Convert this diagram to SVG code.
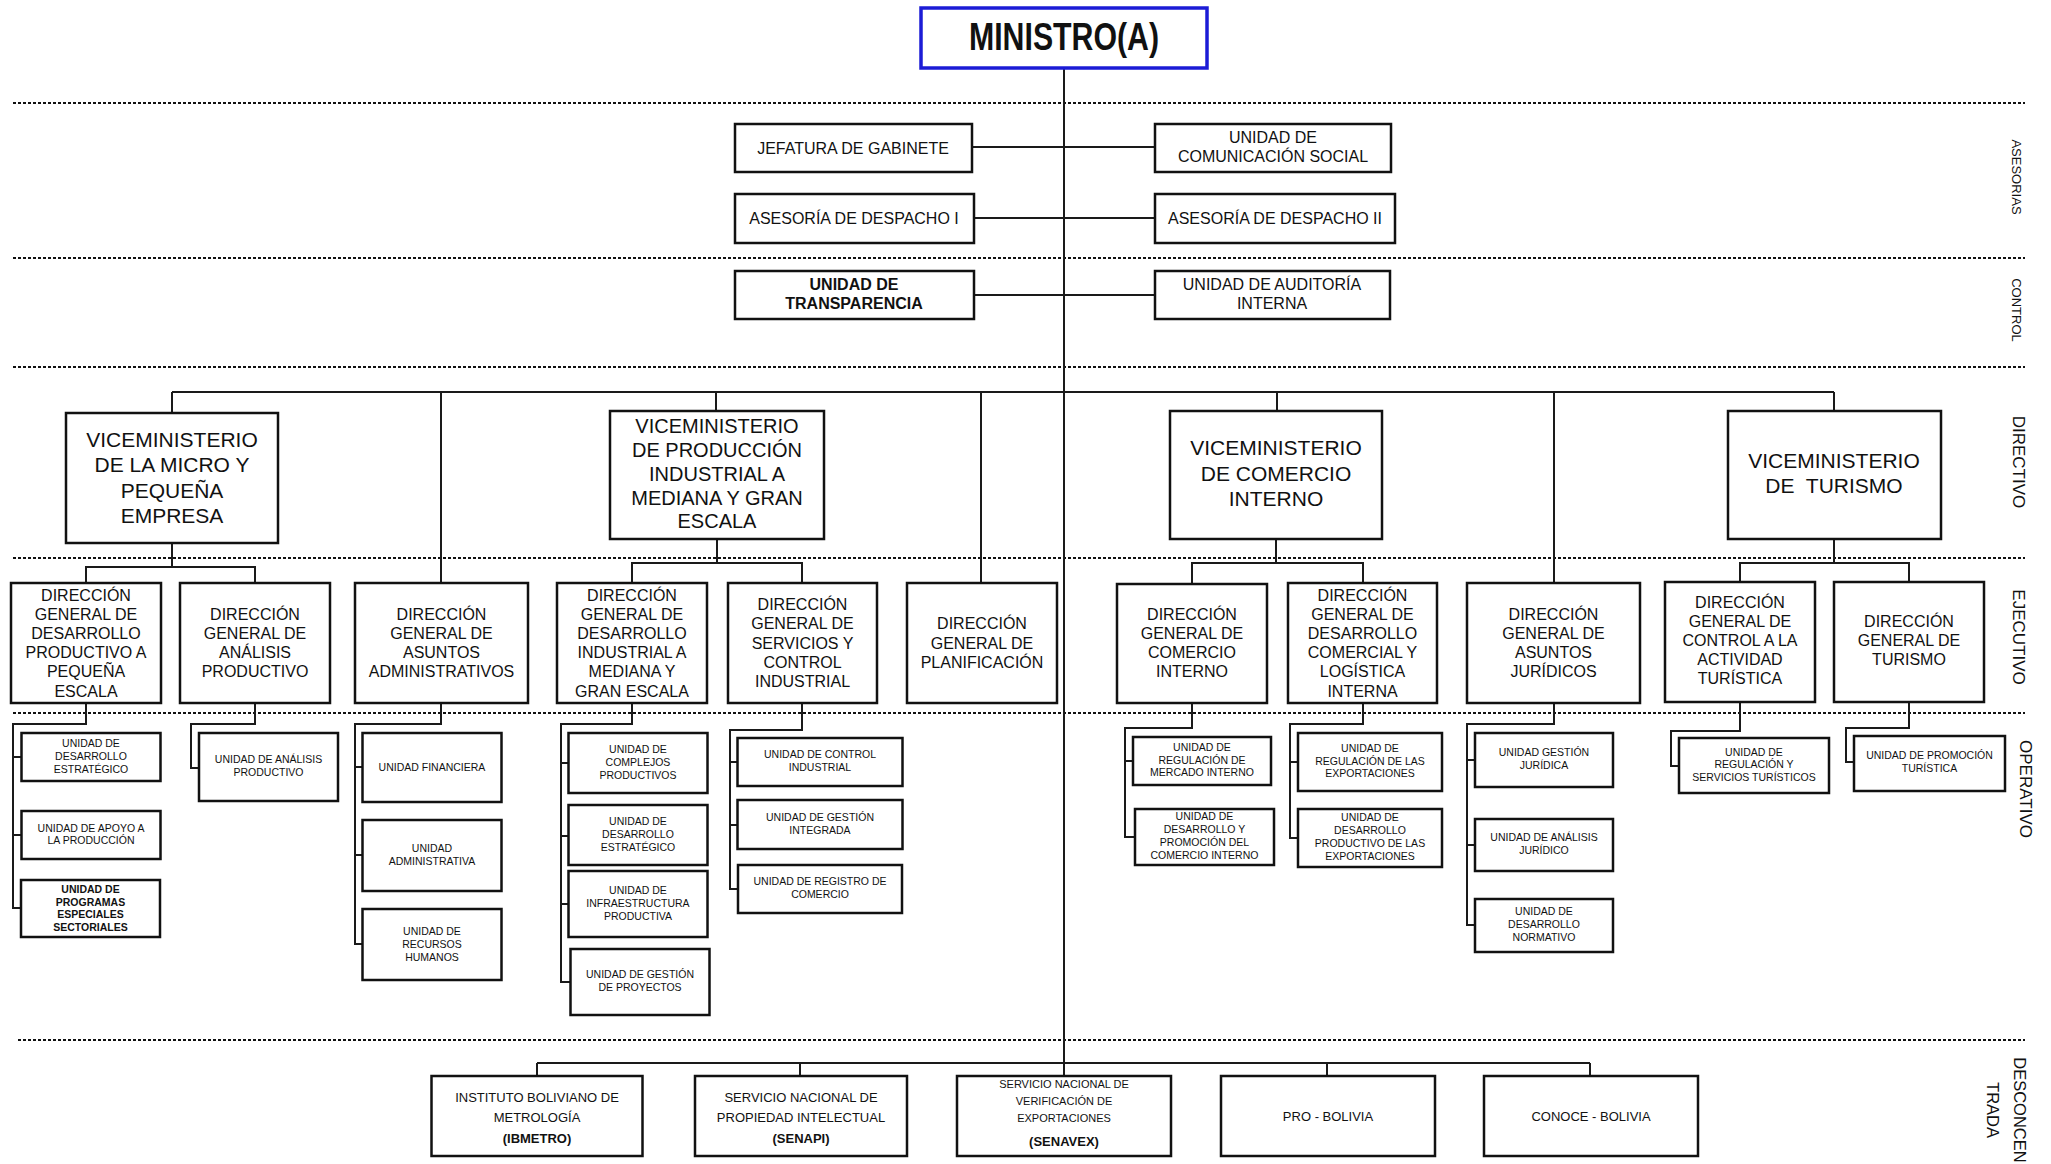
<svg xmlns="http://www.w3.org/2000/svg" width="2051" height="1164" viewBox="0 0 2051 1164">
<style>
.bg{fill:#fff}
.box{fill:#fff;stroke:#111;stroke-width:2.5}
.mbox{fill:#fff;stroke:#1c1cd6;stroke-width:3.5}
.t{font-family:"Liberation Sans",Arial,sans-serif;text-anchor:middle;fill:#111}
.f16{font-size:16px}
.f21{font-size:21px}
.f20{font-size:20px}
.f11{font-size:10.5px}
.f13{font-size:13px}
.b{font-weight:bold}
.dot{stroke:#111;stroke-width:2;stroke-dasharray:3 2;fill:none}
.c{stroke:#1a1a1a;stroke-width:2;fill:none}
.lab{font-family:"Liberation Sans",Arial,sans-serif;text-anchor:middle;fill:#111}
</style>
<rect class="bg" x="0" y="0" width="2051" height="1164"/>

<g id="levels">
<line class="dot" x1="13" y1="103" x2="2025" y2="103"/>
<line class="dot" x1="13" y1="258" x2="2025" y2="258"/>
<line class="dot" x1="13" y1="367" x2="2025" y2="367"/>
<line class="dot" x1="13" y1="558" x2="2025" y2="558"/>
<line class="dot" x1="13" y1="713" x2="2025" y2="713"/>
<line class="dot" x1="18" y1="1040" x2="2025" y2="1040"/>
<text class="lab" font-size="13" transform="translate(2012,177) rotate(90)">ASESORIAS</text>
<text class="lab" font-size="13" transform="translate(2012,310) rotate(90)">CONTROL</text>
<text class="lab" font-size="17" transform="translate(2013,462) rotate(90)">DIRECTIVO</text>
<text class="lab" font-size="17" transform="translate(2013,637) rotate(90)">EJECUTIVO</text>
<text class="lab" font-size="17" transform="translate(2020,789) rotate(90)">OPERATIVO</text>
<text class="lab" font-size="16.5" transform="translate(2014,1110) rotate(90)">DESCONCEN</text>
<text class="lab" font-size="16.5" transform="translate(1987,1110) rotate(90)">TRADA</text>
</g>

<g id="connectors">
<path class="c" d="M1064 68 V1076"/>
<path class="c" d="M972 147 H1155 M974 218 H1155 M974 295 H1155"/>
<path class="c" stroke-width="2.5" d="M172 392 H1834"/>
<path class="c" d="M172 392 V413 M441 392 V583 M716 392 V411 M981 392 V583 M1277 392 V411 M1554 392 V583 M1834 392 V411"/>
<path class="c" d="M172 543 V567 M86 583 V567 H255 V583"/>
<path class="c" d="M717 539 V563 M632 583 V563 H802 V583"/>
<path class="c" d="M1276 539 V563 M1192 584 V563 H1363 V583"/>
<path class="c" d="M1834 539 V563 M1740 582 V563 H1909 V582"/>
<path class="c" d="M86 703 V724 H13 V908 H21 M13 757 H22 M13 835 H22"/>
<path class="c" d="M255 703 V724 H191 V768 H199"/>
<path class="c" d="M441 703 V724 H355 V944 H363 M355 767 H363 M355 855 H363"/>
<path class="c" d="M632 703 V724 H561 V982 H571 M561 763 H569 M561 836 H569 M561 904 H569"/>
<path class="c" d="M802 703 V730 H730 V889 H738 M730 762 H737 M730 825 H737"/>
<path class="c" d="M1192 703 V728 H1125 V837 H1135 M1125 761 H1133"/>
<path class="c" d="M1363 703 V724 H1290 V838 H1298 M1290 762 H1298"/>
<path class="c" d="M1554 703 V724 H1467 V925 H1475 M1467 760 H1475 M1467 845 H1475"/>
<path class="c" d="M1740 702 V731 H1671 V766 H1679"/>
<path class="c" d="M1909 702 V728 H1846 V762 H1854"/>
<path class="c" stroke-width="2.5" d="M537 1063 H1590"/>
<path class="c" d="M537 1063 V1076 M800 1063 V1076 M1327 1063 V1076 M1590 1063 V1076"/>
</g>

<g id="ministro">
<rect class="mbox" x="921" y="8" width="286" height="60"/>
<text class="t b" font-size="38" x="1064" y="50" textLength="190" lengthAdjust="spacingAndGlyphs">MINISTRO(A)</text>
</g>

<g id="jefatura-gabinete"><rect class="box" x="735" y="124" width="237" height="48"/><text class="t f16" x="853" y="154">JEFATURA DE GABINETE</text></g>
<g id="comunicacion-social"><rect class="box" x="1155" y="124" width="236" height="48"/><text class="t f16"><tspan x="1273" y="143">UNIDAD DE</tspan><tspan x="1273" y="162">COMUNICACIÓN SOCIAL</tspan></text></g>
<g id="asesoria-1"><rect class="box" x="735" y="194" width="239" height="49"/><text class="t f16" x="854" y="224">ASESORÍA DE DESPACHO I</text></g>
<g id="asesoria-2"><rect class="box" x="1155" y="194" width="240" height="49"/><text class="t f16" x="1275" y="224">ASESORÍA DE DESPACHO II</text></g>
<g id="transparencia"><rect class="box" x="735" y="271" width="239" height="48"/><text class="t f16 b"><tspan x="854" y="290">UNIDAD DE</tspan><tspan x="854" y="309">TRANSPARENCIA</tspan></text></g>
<g id="auditoria"><rect class="box" x="1155" y="271" width="235" height="48"/><text class="t f16"><tspan x="1272" y="290">UNIDAD DE AUDITORÍA</tspan><tspan x="1272" y="309">INTERNA</tspan></text></g>

<g id="vm-micro"><rect class="box" x="66" y="413" width="212" height="130"/><text class="t f21"><tspan x="172" y="447">VICEMINISTERIO</tspan><tspan x="172" y="472">DE LA MICRO Y</tspan><tspan x="172" y="498">PEQUEÑA</tspan><tspan x="172" y="523">EMPRESA</tspan></text></g>
<g id="vm-produccion"><rect class="box" x="610" y="411" width="214" height="128"/><text class="t f20"><tspan x="717" y="433">VICEMINISTERIO</tspan><tspan x="717" y="457">DE PRODUCCIÓN</tspan><tspan x="717" y="481">INDUSTRIAL A</tspan><tspan x="717" y="505">MEDIANA Y GRAN</tspan><tspan x="717" y="528">ESCALA</tspan></text></g>
<g id="vm-comercio"><rect class="box" x="1170" y="411" width="212" height="128"/><text class="t f21"><tspan x="1276" y="455">VICEMINISTERIO</tspan><tspan x="1276" y="481">DE COMERCIO</tspan><tspan x="1276" y="506">INTERNO</tspan></text></g>
<g id="vm-turismo"><rect class="box" x="1728" y="411" width="213" height="128"/><text class="t f21" style="white-space:pre"><tspan x="1834" y="468">VICEMINISTERIO</tspan><tspan x="1834" y="493">DE  TURISMO</tspan></text></g>

<g id="dg-desarrollo-productivo"><rect class="box" x="11" y="583" width="150" height="120"/><text class="t f16"><tspan x="86" y="601">DIRECCIÓN</tspan><tspan x="86" y="620">GENERAL DE</tspan><tspan x="86" y="639">DESARROLLO</tspan><tspan x="86" y="658">PRODUCTIVO A</tspan><tspan x="86" y="677">PEQUEÑA</tspan><tspan x="86" y="697">ESCALA</tspan></text></g>
<g id="dg-analisis-productivo"><rect class="box" x="180" y="583" width="150" height="120"/><text class="t f16"><tspan x="255" y="620">DIRECCIÓN</tspan><tspan x="255" y="639">GENERAL DE</tspan><tspan x="255" y="658">ANÁLISIS</tspan><tspan x="255" y="677">PRODUCTIVO</tspan></text></g>
<g id="dg-asuntos-administrativos"><rect class="box" x="355" y="583" width="173" height="120"/><text class="t f16"><tspan x="441.5" y="620">DIRECCIÓN</tspan><tspan x="441.5" y="639">GENERAL DE</tspan><tspan x="441.5" y="658">ASUNTOS</tspan><tspan x="441.5" y="677">ADMINISTRATIVOS</tspan></text></g>
<g id="dg-desarrollo-industrial"><rect class="box" x="557" y="583" width="150" height="120"/><text class="t f16"><tspan x="632" y="601">DIRECCIÓN</tspan><tspan x="632" y="620">GENERAL DE</tspan><tspan x="632" y="639">DESARROLLO</tspan><tspan x="632" y="658">INDUSTRIAL A</tspan><tspan x="632" y="677">MEDIANA Y</tspan><tspan x="632" y="697">GRAN ESCALA</tspan></text></g>
<g id="dg-servicios-control"><rect class="box" x="728" y="583" width="149" height="120"/><text class="t f16"><tspan x="802.5" y="610">DIRECCIÓN</tspan><tspan x="802.5" y="629">GENERAL DE</tspan><tspan x="802.5" y="649">SERVICIOS Y</tspan><tspan x="802.5" y="668">CONTROL</tspan><tspan x="802.5" y="687">INDUSTRIAL</tspan></text></g>
<g id="dg-planificacion"><rect class="box" x="907" y="583" width="150" height="120"/><text class="t f16"><tspan x="982" y="629">DIRECCIÓN</tspan><tspan x="982" y="649">GENERAL DE</tspan><tspan x="982" y="668">PLANIFICACIÓN</tspan></text></g>
<g id="dg-comercio-interno"><rect class="box" x="1117" y="584" width="150" height="119"/><text class="t f16"><tspan x="1192" y="620">DIRECCIÓN</tspan><tspan x="1192" y="639">GENERAL DE</tspan><tspan x="1192" y="658">COMERCIO</tspan><tspan x="1192" y="677">INTERNO</tspan></text></g>
<g id="dg-desarrollo-comercial"><rect class="box" x="1288" y="583" width="149" height="120"/><text class="t f16"><tspan x="1362.5" y="601">DIRECCIÓN</tspan><tspan x="1362.5" y="620">GENERAL DE</tspan><tspan x="1362.5" y="639">DESARROLLO</tspan><tspan x="1362.5" y="658">COMERCIAL Y</tspan><tspan x="1362.5" y="677">LOGÍSTICA</tspan><tspan x="1362.5" y="697">INTERNA</tspan></text></g>
<g id="dg-asuntos-juridicos"><rect class="box" x="1467" y="583" width="173" height="120"/><text class="t f16"><tspan x="1553.5" y="620">DIRECCIÓN</tspan><tspan x="1553.5" y="639">GENERAL DE</tspan><tspan x="1553.5" y="658">ASUNTOS</tspan><tspan x="1553.5" y="677">JURÍDICOS</tspan></text></g>
<g id="dg-control-turistica"><rect class="box" x="1665" y="582" width="150" height="120"/><text class="t f16"><tspan x="1740" y="608">DIRECCIÓN</tspan><tspan x="1740" y="627">GENERAL DE</tspan><tspan x="1740" y="646">CONTROL A LA</tspan><tspan x="1740" y="665">ACTIVIDAD</tspan><tspan x="1740" y="684">TURÍSTICA</tspan></text></g>
<g id="dg-turismo"><rect class="box" x="1834" y="582" width="150" height="120"/><text class="t f16"><tspan x="1909" y="627">DIRECCIÓN</tspan><tspan x="1909" y="646">GENERAL DE</tspan><tspan x="1909" y="665">TURISMO</tspan></text></g>

<g id="u-desarrollo-estrategico-1"><rect class="box" x="21.5" y="733" width="139" height="48"/><text class="t f11"><tspan x="91" y="747">UNIDAD DE</tspan><tspan x="91" y="760">DESARROLLO</tspan><tspan x="91" y="773">ESTRATÉGICO</tspan></text></g>
<g id="u-apoyo-produccion"><rect class="box" x="21.5" y="811" width="139" height="48"/><text class="t f11"><tspan x="91" y="832">UNIDAD DE APOYO A</tspan><tspan x="91" y="844">LA PRODUCCIÓN</tspan></text></g>
<g id="u-programas-especiales"><rect class="box" x="21" y="880" width="139" height="57"/><text class="t f11 b"><tspan x="90.5" y="893">UNIDAD DE</tspan><tspan x="90.5" y="906">PROGRAMAS</tspan><tspan x="90.5" y="918">ESPECIALES</tspan><tspan x="90.5" y="931">SECTORIALES</tspan></text></g>
<g id="u-analisis-productivo"><rect class="box" x="199" y="733" width="139" height="68"/><text class="t f11"><tspan x="268.5" y="763">UNIDAD DE ANÁLISIS</tspan><tspan x="268.5" y="776">PRODUCTIVO</tspan></text></g>
<g id="u-financiera"><rect class="box" x="362.5" y="733" width="139" height="69"/><text class="t f11" x="432" y="771">UNIDAD FINANCIERA</text></g>
<g id="u-administrativa"><rect class="box" x="362.5" y="820" width="139" height="71"/><text class="t f11"><tspan x="432" y="852">UNIDAD</tspan><tspan x="432" y="865">ADMINISTRATIVA</tspan></text></g>
<g id="u-recursos-humanos"><rect class="box" x="362.5" y="909" width="139" height="71"/><text class="t f11"><tspan x="432" y="935">UNIDAD DE</tspan><tspan x="432" y="948">RECURSOS</tspan><tspan x="432" y="961">HUMANOS</tspan></text></g>
<g id="u-complejos-productivos"><rect class="box" x="568.5" y="733" width="139" height="60"/><text class="t f11"><tspan x="638" y="753">UNIDAD DE</tspan><tspan x="638" y="766">COMPLEJOS</tspan><tspan x="638" y="779">PRODUCTIVOS</tspan></text></g>
<g id="u-desarrollo-estrategico-2"><rect class="box" x="568.5" y="805" width="139" height="60"/><text class="t f11"><tspan x="638" y="825">UNIDAD DE</tspan><tspan x="638" y="838">DESARROLLO</tspan><tspan x="638" y="851">ESTRATÉGICO</tspan></text></g>
<g id="u-infraestructura"><rect class="box" x="568.5" y="871" width="139" height="66"/><text class="t f11"><tspan x="638" y="894">UNIDAD DE</tspan><tspan x="638" y="907">INFRAESTRUCTURA</tspan><tspan x="638" y="920">PRODUCTIVA</tspan></text></g>
<g id="u-gestion-proyectos"><rect class="box" x="570.5" y="949" width="139" height="66"/><text class="t f11"><tspan x="640" y="978">UNIDAD DE GESTIÓN</tspan><tspan x="640" y="991">DE PROYECTOS</tspan></text></g>
<g id="u-control-industrial"><rect class="box" x="737.5" y="738" width="165" height="48"/><text class="t f11"><tspan x="820" y="758">UNIDAD DE CONTROL</tspan><tspan x="820" y="771">INDUSTRIAL</tspan></text></g>
<g id="u-gestion-integrada"><rect class="box" x="737.5" y="800" width="165" height="49"/><text class="t f11"><tspan x="820" y="821">UNIDAD DE GESTIÓN</tspan><tspan x="820" y="834">INTEGRADA</tspan></text></g>
<g id="u-registro-comercio"><rect class="box" x="738" y="865" width="164" height="48"/><text class="t f11"><tspan x="820" y="885">UNIDAD DE REGISTRO DE</tspan><tspan x="820" y="898">COMERCIO</tspan></text></g>
<g id="u-regulacion-mercado"><rect class="box" x="1133" y="737" width="138" height="48"/><text class="t f11"><tspan x="1202" y="751">UNIDAD DE</tspan><tspan x="1202" y="764">REGULACIÓN DE</tspan><tspan x="1202" y="776">MERCADO INTERNO</tspan></text></g>
<g id="u-promocion-comercio"><rect class="box" x="1135" y="809" width="139" height="56"/><text class="t f11"><tspan x="1204.5" y="820">UNIDAD DE</tspan><tspan x="1204.5" y="833">DESARROLLO Y</tspan><tspan x="1204.5" y="846">PROMOCIÓN DEL</tspan><tspan x="1204.5" y="859">COMERCIO INTERNO</tspan></text></g>
<g id="u-regulacion-exportaciones"><rect class="box" x="1298" y="733" width="144" height="58"/><text class="t f11"><tspan x="1370" y="752">UNIDAD DE</tspan><tspan x="1370" y="765">REGULACIÓN DE LAS</tspan><tspan x="1370" y="777">EXPORTACIONES</tspan></text></g>
<g id="u-desarrollo-exportaciones"><rect class="box" x="1298" y="809" width="144" height="58"/><text class="t f11"><tspan x="1370" y="821">UNIDAD DE</tspan><tspan x="1370" y="834">DESARROLLO</tspan><tspan x="1370" y="847">PRODUCTIVO DE LAS</tspan><tspan x="1370" y="860">EXPORTACIONES</tspan></text></g>
<g id="u-gestion-juridica"><rect class="box" x="1475" y="733" width="138" height="54"/><text class="t f11"><tspan x="1544" y="756">UNIDAD GESTIÓN</tspan><tspan x="1544" y="769">JURÍDICA</tspan></text></g>
<g id="u-analisis-juridico"><rect class="box" x="1475" y="819" width="138" height="52"/><text class="t f11"><tspan x="1544" y="841">UNIDAD DE ANÁLISIS</tspan><tspan x="1544" y="854">JURÍDICO</tspan></text></g>
<g id="u-desarrollo-normativo"><rect class="box" x="1475" y="899" width="138" height="53"/><text class="t f11"><tspan x="1544" y="915">UNIDAD DE</tspan><tspan x="1544" y="928">DESARROLLO</tspan><tspan x="1544" y="941">NORMATIVO</tspan></text></g>
<g id="u-servicios-turisticos"><rect class="box" x="1679" y="738" width="150" height="55"/><text class="t f11"><tspan x="1754" y="756">UNIDAD DE</tspan><tspan x="1754" y="768">REGULACIÓN Y</tspan><tspan x="1754" y="781">SERVICIOS TURÍSTICOS</tspan></text></g>
<g id="u-promocion-turistica"><rect class="box" x="1854" y="736" width="151" height="55"/><text class="t f11"><tspan x="1929.5" y="759">UNIDAD DE PROMOCIÓN</tspan><tspan x="1929.5" y="772">TURÍSTICA</tspan></text></g>

<g id="ibmetro"><rect class="box" x="431.5" y="1076" width="211" height="80"/><text class="t f13"><tspan x="537" y="1102">INSTITUTO BOLIVIANO DE</tspan><tspan x="537" y="1122">METROLOGÍA</tspan><tspan x="537" y="1143" font-weight="bold">(IBMETRO)</tspan></text></g>
<g id="senapi"><rect class="box" x="695" y="1076" width="212" height="80"/><text class="t f13"><tspan x="801" y="1102">SERVICIO NACIONAL DE</tspan><tspan x="801" y="1122">PROPIEDAD INTELECTUAL</tspan><tspan x="801" y="1143" font-weight="bold">(SENAPI)</tspan></text></g>
<g id="senavex"><rect class="box" x="957" y="1076" width="214" height="80"/><text class="t" font-size="11"><tspan x="1064" y="1088">SERVICIO NACIONAL DE</tspan><tspan x="1064" y="1105">VERIFICACIÓN DE</tspan><tspan x="1064" y="1122">EXPORTACIONES</tspan><tspan x="1064" y="1146" font-size="13" font-weight="bold">(SENAVEX)</tspan></text></g>
<g id="pro-bolivia"><rect class="box" x="1221" y="1076" width="214" height="80"/><text class="t f13" x="1328" y="1121">PRO - BOLIVIA</text></g>
<g id="conoce-bolivia"><rect class="box" x="1484" y="1076" width="214" height="80"/><text class="t f13" x="1591" y="1121">CONOCE - BOLIVIA</text></g>
</svg>
